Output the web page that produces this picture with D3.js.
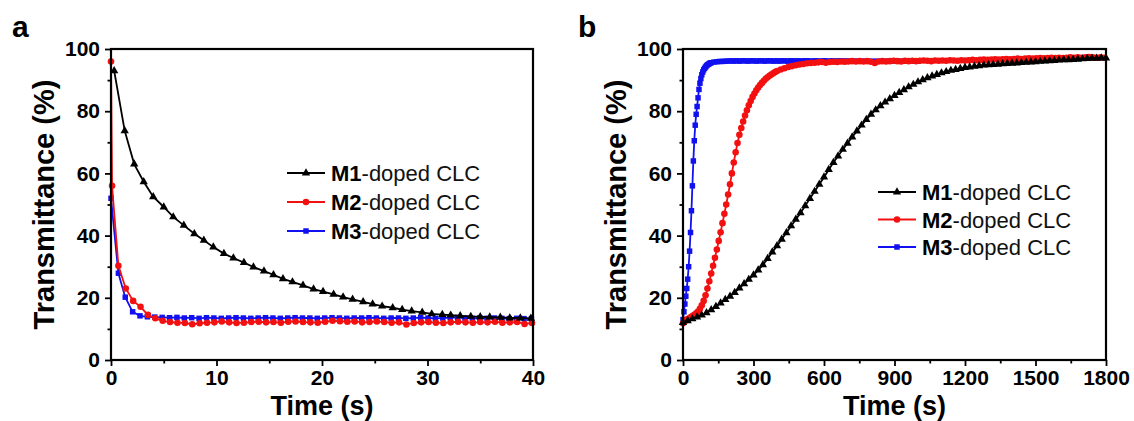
<!DOCTYPE html>
<html>
<head>
<meta charset="utf-8">
<script src="https://cdn.jsdelivr.net/npm/d3@7"></script>
<style>
  body { margin: 0; background: #fff; }
  svg { display: block; }
  text { font-family: "Liberation Sans", Arial, Helvetica, sans-serif; fill: #000; }
</style>
</head>
<body>
<svg id="fig" width="1134" height="421"></svg>
<script>
// ---------- data ----------
const seriesNames = ["M1", "M2", "M3"];
const legendSuffix = "-doped CLC";

// Panel a: relaxation (transmittance vs time, s) — [time, transmittance]
const aM1 = [[0.3,93],[1.3,73.7],[2.2,63],[3.1,57.3],[4.0,52.5],[5.0,49.2],[5.9,46],[6.9,43.3],[7.9,40.6],[8.8,38.5],
  [9.7,36.3],[10.7,34.2],[11.6,32.8],[12.6,31.3],[13.5,29.9],[14.5,28.6],[15.4,27.4],[16.3,26.1],[17.2,25.1],[18.2,24],
  [19.2,22.8],[20.1,22],[21.1,21.1],[22.0,20.2],[22.9,19.5],[23.9,18.7],[24.8,18],[25.7,17.3],[26.7,16.8],[27.6,16.2],
  [28.5,15.7],[29.5,15.3],[30.4,14.8],[31.4,14.6],[32.2,14.4],[33.1,14.2],[34.1,14],[35.0,13.9],[35.9,13.8],[36.9,13.7],
  [37.8,13.5],[38.8,13.5],[39.8,13.4]];
const aM2 = [[0,96],[0.1,56],[0.7,30.3],[1.4,23],[2.1,19],[2.8,17.1],[3.5,14.5],[4.2,13.4],[4.9,12.6],[5.6,12.2],
  [6.3,12],[7.0,11.9],[7.7,11.5],[8.4,11.8],[9.1,12],[9.8,12.1],[10.5,12.4],[11.2,12.1],[11.9,11.9],[12.6,12],
  [13.3,12.2],[14.0,12.3],[14.7,12.1],[15.4,12.2],[16.1,12],[16.8,12.3],[17.5,12.4],[18.2,12.2],[18.9,12.1],[19.6,12],
  [20.3,12.3],[21.0,12.6],[21.7,12.5],[22.4,12.3],[23.1,12.4],[23.8,12.1],[24.5,12.2],[25.2,12.4],[25.9,12.2],[26.6,12],
  [27.3,12.1],[28.0,11.4],[28.7,11.9],[29.4,12.1],[30.1,12.2],[30.8,12],[31.5,11.9],[32.2,12.1],[32.9,12.3],[33.6,12.1],
  [34.3,12],[35.0,12.2],[35.7,12.1],[36.4,12.3],[37.1,12],[37.8,12.1],[38.5,12.2],[39.2,11.6],[39.9,11.9]];
const aM3 = [[0,52],[0.7,27.9],[1.35,20.2],[2.05,15.5],[2.75,14.2],[3.45,13.9],[4.15,13.8],[4.85,13.7],[5.55,13.6],[6.25,13.7],
  [6.95,13.5],[7.65,13.6],[8.35,13.4],[9.05,13.6],[9.75,13.5],[10.45,13.4],[11.15,13.5],[11.85,13.6],[12.55,13.5],[13.25,13.4],
  [13.95,13.5],[14.65,13.6],[15.35,13.5],[16.05,13.4],[16.75,13.5],[17.45,13.6],[18.15,13.5],[18.85,13.5],[19.55,13.4],[20.25,13.5],
  [20.95,13.6],[21.65,13.5],[22.35,13.4],[23.05,13.5],[23.75,13.5],[24.45,13.6],[25.15,13.5],[25.85,13.4],[26.55,13.5],[27.25,13.5],
  [27.95,13.4],[28.65,13.5],[29.35,13.6],[30.05,13.5],[30.75,13.4],[31.45,13.5],[32.15,13.6],[32.85,13.7],[33.55,13.5],[34.25,13.4],
  [34.95,13.5],[35.65,13.4],[36.35,13.5],[37.05,13.4],[37.75,13.3],[38.45,13.4],[39.15,13.3],[39.85,13.3]];

// Panel b: recovery (transmittance vs time, s) — [time, transmittance]
const bM1 = [[0,12],[20,12.6],[40,13.2],[60,13.8],[80,14.4],[100,15.2],[120,16.1],[140,17.2],[160,18.3],[180,19.4],
  [200,20.5],[220,21.7],[240,23.1],[260,24.5],[280,25.9],[300,27.3],[320,28.9],[340,30.6],[360,32.6],[380,34.7],
  [400,36.7],[420,38.8],[440,40.9],[460,43.1],[480,45.2],[500,47.3],[520,49.6],[540,51.9],[560,54.2],[580,56.5],
  [600,58.8],[620,61.2],[640,63.5],[660,65.6],[680,67.7],[700,69.7],[720,71.7],[740,73.6],[760,75.5],[780,77.3],
  [800,79],[820,80.4],[840,81.7],[860,82.9],[880,84],[900,85],[920,86],[940,86.9],[960,87.8],[980,88.6],
  [1000,89.4],[1020,90.1],[1040,90.7],[1060,91.3],[1080,91.8],[1100,92.3],[1120,92.7],[1140,93.1],[1160,93.4],[1180,93.7],
  [1200,94],[1220,94.2],[1240,94.4],[1260,94.6],[1280,94.8],[1300,94.9],[1320,95],[1340,95.1],[1360,95.2],[1380,95.3],
  [1400,95.4],[1420,95.5],[1440,95.6],[1460,95.7],[1480,95.8],[1500,95.9],[1520,96],[1540,96.1],[1560,96.2],[1580,96.3],
  [1600,96.4],[1620,96.5],[1640,96.5],[1660,96.6],[1680,96.7],[1700,96.8],[1720,96.9],[1740,97],[1760,97],[1780,97.1],[1800,97.1]];
const bM2 = [[0,11.8],[8,12.5],[16,13],[24,13.3],[32,13.7],[40,14.1],[48,14.5],[56,15],[64,15.6],[72,16.5],
  [80,17.6],[88,19],[96,20.8],[104,23],[112,25.3],[120,27.8],[128,30.3],[136,32.9],[144,35.5],[152,38.3],
  [160,41.1],[168,44],[176,47],[184,50],[192,53.2],[200,56.5],[208,60],[216,63.5],[224,66.8],[232,69.8],
  [240,72.4],[248,74.6],[256,76.7],[264,78.6],[272,80.3],[280,81.9],[288,83.3],[296,84.6],[304,85.7],[312,86.7],
  [320,87.6],[328,88.4],[336,89.1],[344,89.8],[352,90.4],[360,90.9],[368,91.4],[376,91.8],[384,92.2],[392,92.6],
  [400,92.9],[416,93.4],[432,93.8],[448,94.2],[464,94.5],[480,94.8],[496,95],[512,95.2],[528,95.4],[544,95.5],
  [560,95.6],[576,95.7],[592,95.8],[608,95.6],[624,95.8],[640,95.9],[656,95.8],[672,96],[688,95.9],[704,96],
  [720,96.1],[736,96],[752,96.1],[768,96],[784,96.1],[800,95.9],[816,95.5],[832,96],[848,96.1],[864,96],
  [880,96.1],[896,96.2],[912,96.1],[928,96],[944,96.2],[960,96.1],[976,96.2],[992,96.1],[1008,96.2],[1024,96.3],
  [1040,96.2],[1056,96.1],[1072,96.3],[1088,96.2],[1104,96.3],[1120,96.2],[1136,96.4],[1152,96.3],[1168,96.2],[1184,96.4],
  [1200,96.3],[1216,96.4],[1232,96.5],[1248,96.4],[1264,96.5],[1280,96.6],[1296,96.5],[1312,96.6],[1328,96.7],[1344,96.6],
  [1360,96.7],[1376,96.8],[1392,96.7],[1408,96.8],[1424,96.9],[1440,96.8],[1456,96.9],[1472,97],[1488,96.9],[1504,97],
  [1520,97.1],[1536,97],[1552,97.1],[1568,97.2],[1584,97.1],[1600,97.2],[1616,97.1],[1632,97.2],[1648,97.3],[1664,97.2],
  [1680,97.3],[1696,97.2],[1712,97.3],[1728,97.4],[1744,97.3],[1760,97.2],[1776,97.3],[1792,97.2]];
const bM3 = [[0,13],[4,15.5],[8,18],[12,20.5],[16,23],[20,26],[24,30],[28,35],[32,41],[36,48],
  [40,56],[44,64],[48,70.5],[52,75.5],[56,79],[60,81.5],[64,84.3],[68,87],[72,89],[76,90.5],
  [80,91.7],[84,92.6],[88,93.3],[92,93.8],[96,94.2],[100,94.6],[104,94.9],[108,95.1],[112,95.3],[116,95.5],
  [120,95.6],[132,95.8],[144,95.9],[156,96],[168,96],[180,96.1],[192,96.1],[204,96.2],[216,96.1],[228,96.2],
  [240,96.1],[252,96.2],[264,96.2],[276,96.1],[288,96.2],[300,96.2],[312,96.1],[324,96.2],[336,96.2],[348,96.1],
  [360,96.2],[372,96.2],[384,96.1],[396,96.2],[408,96.1],[420,96.2],[432,96.2],[444,96.1],[456,96.2],[468,96.2],
  [480,96.1],[492,96.2],[504,96.1],[516,96.2],[528,96.2],[540,96.1],[552,96.1],[564,96.2],[576,96.1],[588,96.1],
  [600,96.2],[612,96.1],[624,96.1],[636,96.2],[648,96.1],[660,96.1],[672,96.2],[684,96.1],[696,96.1],[708,96.1],
  [720,96.2],[744,96.1],[768,96.1],[792,96.1],[816,96.1],[840,96.1],[864,96.1],[888,96.1],[912,96.1],[936,96.1],
  [960,96.1],[984,96.1],[1000,96.1]];

// axis ticks
const yTicks = [0, 20, 40, 60, 80, 100];
const yMinor = [10, 30, 50, 70, 90];
const aXTicks = [0, 10, 20, 30, 40];
const aXMinor = [5, 15, 25, 35];
const bXTicks = [0, 300, 600, 900, 1200, 1500, 1800];
const bXMinor = [150, 450, 750, 1050, 1350, 1650];

// ---------- styles ----------
const colors = { M1: "#000000", M2: "#f21010", M3: "#1010f0" };
const FONT = '"Liberation Sans", Arial, Helvetica, sans-serif';
const svg = d3.select("#fig");
const plotTop = 49, plotBottom = 360;

const markerPath = {
  M1: d3.symbol(d3.symbolTriangle, 30)(),
  M2: d3.symbol(d3.symbolCircle, 34)(),
  M3: d3.symbol(d3.symbolSquare, 30)()
};

function drawPanel(cfg) {
  const g = svg.append("g");
  const x = d3.scaleLinear().domain(cfg.xDomain).range([cfg.left, cfg.right]);
  const y = d3.scaleLinear().domain([0, 100]).range([plotBottom, plotTop]);

  // series (drawn back to front)
  const line = d3.line().x(d => x(d[0])).y(d => y(d[1]));
  const order = ["M3", "M2", "M1"];
  order.forEach(name => {
    const data = cfg.series[name];
    const sg = g.append("g");
    sg.append("path").datum(data).attr("d", line)
      .attr("fill", "none").attr("stroke", colors[name]).attr("stroke-width", 1.8);
    sg.selectAll("path.m").data(data).join("path").attr("class", "m")
      .attr("d", markerPath[name])
      .attr("transform", d => `translate(${x(d[0])},${y(d[1])})`)
      .attr("fill", colors[name]);
  });

  // frame
  g.append("rect").attr("x", cfg.left).attr("y", plotTop)
    .attr("width", cfg.right - cfg.left).attr("height", plotBottom - plotTop)
    .attr("fill", "none").attr("stroke", "#000").attr("stroke-width", 2.2);

  // axes
  const styleAxis = sel => {
    sel.select(".domain").remove();
    sel.selectAll(".tick line").attr("stroke", "#000").attr("stroke-width", 1.8);
    sel.selectAll("text").attr("font-family", FONT).attr("font-weight", "bold")
      .attr("font-size", 21).attr("fill", "#000");
  };
  g.append("g").attr("transform", `translate(0,${plotBottom})`)
    .call(d3.axisBottom(x).tickValues(cfg.xTicks).tickSize(6).tickPadding(4).tickFormat(d3.format("d")))
    .call(styleAxis);
  g.append("g").attr("transform", `translate(0,${plotBottom})`)
    .call(d3.axisBottom(x).tickValues(cfg.xMinor).tickSize(3.5).tickFormat(""))
    .call(styleAxis);
  g.append("g").attr("transform", `translate(${cfg.left},0)`)
    .call(d3.axisLeft(y).tickValues(yTicks).tickSize(6).tickPadding(5))
    .call(styleAxis);
  g.append("g").attr("transform", `translate(${cfg.left},0)`)
    .call(d3.axisLeft(y).tickValues(yMinor).tickSize(3.5).tickFormat(""))
    .call(styleAxis);

  // axis titles
  g.append("text").attr("x", (cfg.left + cfg.right) / 2).attr("y", 414.5)
    .attr("text-anchor", "middle").attr("font-weight", "bold").attr("font-size", 27)
    .text("Time (s)");
  g.append("text")
    .attr("transform", `translate(${cfg.left - 57},${(plotTop + plotBottom) / 2}) rotate(-90)`)
    .attr("text-anchor", "middle").attr("font-weight", "bold").attr("font-size", 29)
    .text("Transmittance (%)");

  // panel letter
  g.append("text").attr("x", cfg.letterX).attr("y", 37)
    .attr("font-weight", "bold").attr("font-size", 30).text(cfg.letter);

  // legend
  seriesNames.forEach((name, i) => {
    const cy = cfg.legY + i * cfg.legGap;
    const lg = g.append("g");
    lg.append("line").attr("x1", cfg.legX).attr("x2", cfg.legX + 38)
      .attr("y1", cy).attr("y2", cy).attr("stroke", colors[name]).attr("stroke-width", 1.8);
    lg.append("path").attr("d", markerPath[name])
      .attr("transform", `translate(${cfg.legX + 19},${cy})`).attr("fill", colors[name]);
    const t = lg.append("text").attr("x", cfg.legX + 44).attr("y", cy + 8)
      .attr("font-size", 22);
    t.append("tspan").attr("font-weight", "bold").text(name);
    t.append("tspan").attr("fill", "#111").text(legendSuffix);
  });
}

drawPanel({
  letter: "a", letterX: 12,
  left: 111, right: 533, xDomain: [0, 40], xTicks: aXTicks, xMinor: aXMinor,
  series: { M1: aM1, M2: aM2, M3: aM3 },
  legX: 287, legY: 173, legGap: 29
});
drawPanel({
  letter: "b", letterX: 578,
  left: 683, right: 1106, xDomain: [0, 1800], xTicks: bXTicks, xMinor: bXMinor,
  series: { M1: bM1, M2: bM2, M3: bM3 },
  legX: 878, legY: 192, legGap: 27.5
});
</script>
</body>
</html>
